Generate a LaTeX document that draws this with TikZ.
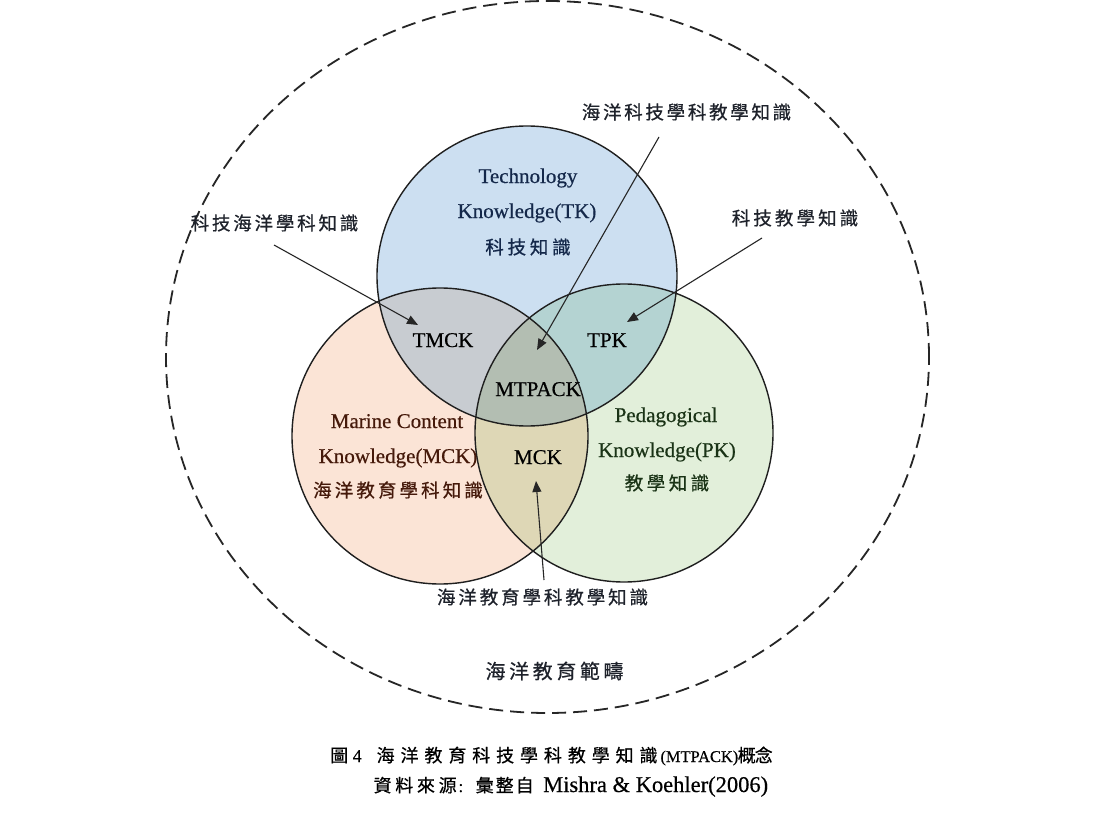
\documentclass[tikz,border=0pt]{standalone}
\usepackage{fontspec}
\setmainfont{Liberation Serif}[FakeBold=0.5]
\newfontfamily\cjk{Noto Sans CJK TC}[FakeBold=0.6]
\usetikzlibrary{arrows.meta}
\makeatletter
\newcommand\cjsp[2]{{\cjk\@tfor\cjtok:=#2\do{\makebox[#1]{\cjtok}}}}
\makeatother
\definecolor{tkfill}{HTML}{CCDFF1}
\definecolor{mcfill}{HTML}{FBE4D6}
\definecolor{pkfill}{HTML}{E2EFDA}
\definecolor{tmfill}{HTML}{C8CCD1}
\definecolor{tpfill}{HTML}{B4D3D2}
\definecolor{mpfill}{HTML}{DED7B6}
\definecolor{allfill}{HTML}{B3BEB2}
\definecolor{tktext}{HTML}{14284A}
\definecolor{mctext}{HTML}{45190A}
\definecolor{pktext}{HTML}{1A3316}
\definecolor{anntext}{HTML}{1E222B}
\begin{document}
\begin{tikzpicture}[x=1pt,y=-1pt,
  ring/.style={draw=black!88, line width=1.4pt},
  outerring/.style={draw=black!85, line width=1.8pt, dash pattern=on 14pt off 7pt},
  eng/.style={font=\fontsize{21}{25}\selectfont, anchor=base, inner sep=0pt},
  cjlab/.style={font=\fontsize{18.5}{22}\selectfont, anchor=center, inner sep=0pt},
  annarrow/.style={draw=black!85, line width=1.1pt, -{Triangle[length=11pt,width=9pt]}}]
\useasboundingbox (0,0) rectangle (1106,832);
\fill[white] (0,0) rectangle (1106,832);
\coordinate (ctk) at (527,276);
\coordinate (cmc) at (440,436);
\coordinate (cpk) at (624,433);
% fills
\fill[tkfill] (ctk) circle[radius=150pt];
\fill[mcfill] (cmc) circle[radius=148pt];
\fill[pkfill] (cpk) circle[radius=149pt];
\begin{scope}
  \clip (ctk) circle[radius=150pt];
  \fill[tmfill] (cmc) circle[radius=148pt];
  \fill[tpfill] (cpk) circle[radius=149pt];
\end{scope}
\begin{scope}
  \clip (cmc) circle[radius=148pt];
  \fill[mpfill] (cpk) circle[radius=149pt];
\end{scope}
\begin{scope}
  \clip (ctk) circle[radius=150pt];
  \clip (cmc) circle[radius=148pt];
  \fill[allfill] (cpk) circle[radius=149pt];
\end{scope}
% outlines
\draw[ring] (ctk) circle[radius=150pt];
\draw[ring] (cmc) circle[radius=148pt];
\draw[ring] (cpk) circle[radius=149pt];
\draw[outerring] (547.5,357) ellipse[x radius=381.5pt, y radius=356pt];
% circle texts
\node[eng, text=tktext] (tk1) at (528,183) {Technology};
\node[eng, text=tktext] (tk2) at (527,218) {Knowledge(TK)};
\node[cjlab, text=tktext] (tk3) at (528,247) {\cjsp{22.3pt}{科技知識}};
\node[eng, text=mctext] (mc1) at (397,428) {Marine Content};
\node[eng, text=mctext] (mc2) at (398,463) {Knowledge(MCK)};
\node[cjlab, text=mctext] (mc3) at (398,490) {\cjsp{21.6pt}{海洋教育學科知識}};
\node[eng, text=pktext] (pk1) at (666,422) {Pedagogical};
\node[eng, text=pktext] (pk2) at (667,457) {Knowledge(PK)};
\node[cjlab, text=pktext] (pk3) at (667,483) {\cjsp{22pt}{教學知識}};
\node[eng] (tmck) at (443,347) {TMCK};
\node[eng] (tpk) at (607,347) {TPK};
\node[eng] (mtpack) at (538,396) {MTPACK};
\node[eng] (mck) at (538,464) {MCK};
% annotation labels
\node[cjlab, text=anntext] (lall) at (686.5,112) {\cjsp{21.2pt}{海洋科技學科教學知識}};
\node[cjlab, text=anntext] (ltm) at (274.5,223) {\cjsp{21.3pt}{科技海洋學科知識}};
\node[cjlab, text=anntext] (ltp) at (795,218) {\cjsp{21.6pt}{科技教學知識}};
\node[cjlab, text=anntext] (lmp) at (542.5,597) {\cjsp{21.4pt}{海洋教育學科教學知識}};
\node[cjlab, text=anntext, font=\fontsize{20}{24}\selectfont] (scope) at (554.5,671) {\cjsp{23.6pt}{海洋教育範疇}};
% arrows
\coordinate (s1) at (274,245); \coordinate (t1) at (418,325);
\coordinate (s2) at (659,137); \coordinate (t2) at (537,350);
\coordinate (s3) at (762,238); \coordinate (t3) at (627,322);
\coordinate (s4) at (544,580); \coordinate (t4) at (536,481);
\draw[annarrow] (s1) -- (t1);
\draw[annarrow] (s2) -- (t2);
\draw[annarrow] (s3) -- (t3);
\draw[annarrow] (s4) -- (t4);
% caption
\node[anchor=base west, inner sep=0pt, text=black, font=\fontsize{18}{20}\selectfont] (cap1) at (331,762)
  {\makebox[16pt]{\cjk 圖}\makebox[20pt]{4}\hspace{6.5pt}\cjsp{23.9pt}{海洋教育科技學科教學知識}{\fontsize{16.4}{20}\selectfont(MTPACK)}\cjsp{17pt}{概念}};
\node[anchor=base west, inner sep=0pt, text=black, font=\fontsize{18}{20}\selectfont] (cap2) at (371.5,792)
  {\cjsp{21.7pt}{資料來源}{\fontsize{17}{20}\selectfont:}\hspace{11.5pt}\cjsp{20pt}{彙整自}\hspace{8.5pt}{\fontsize{22.5}{26}\selectfont Mishra \& Koehler(2006)}};
\end{tikzpicture}
\end{document}
